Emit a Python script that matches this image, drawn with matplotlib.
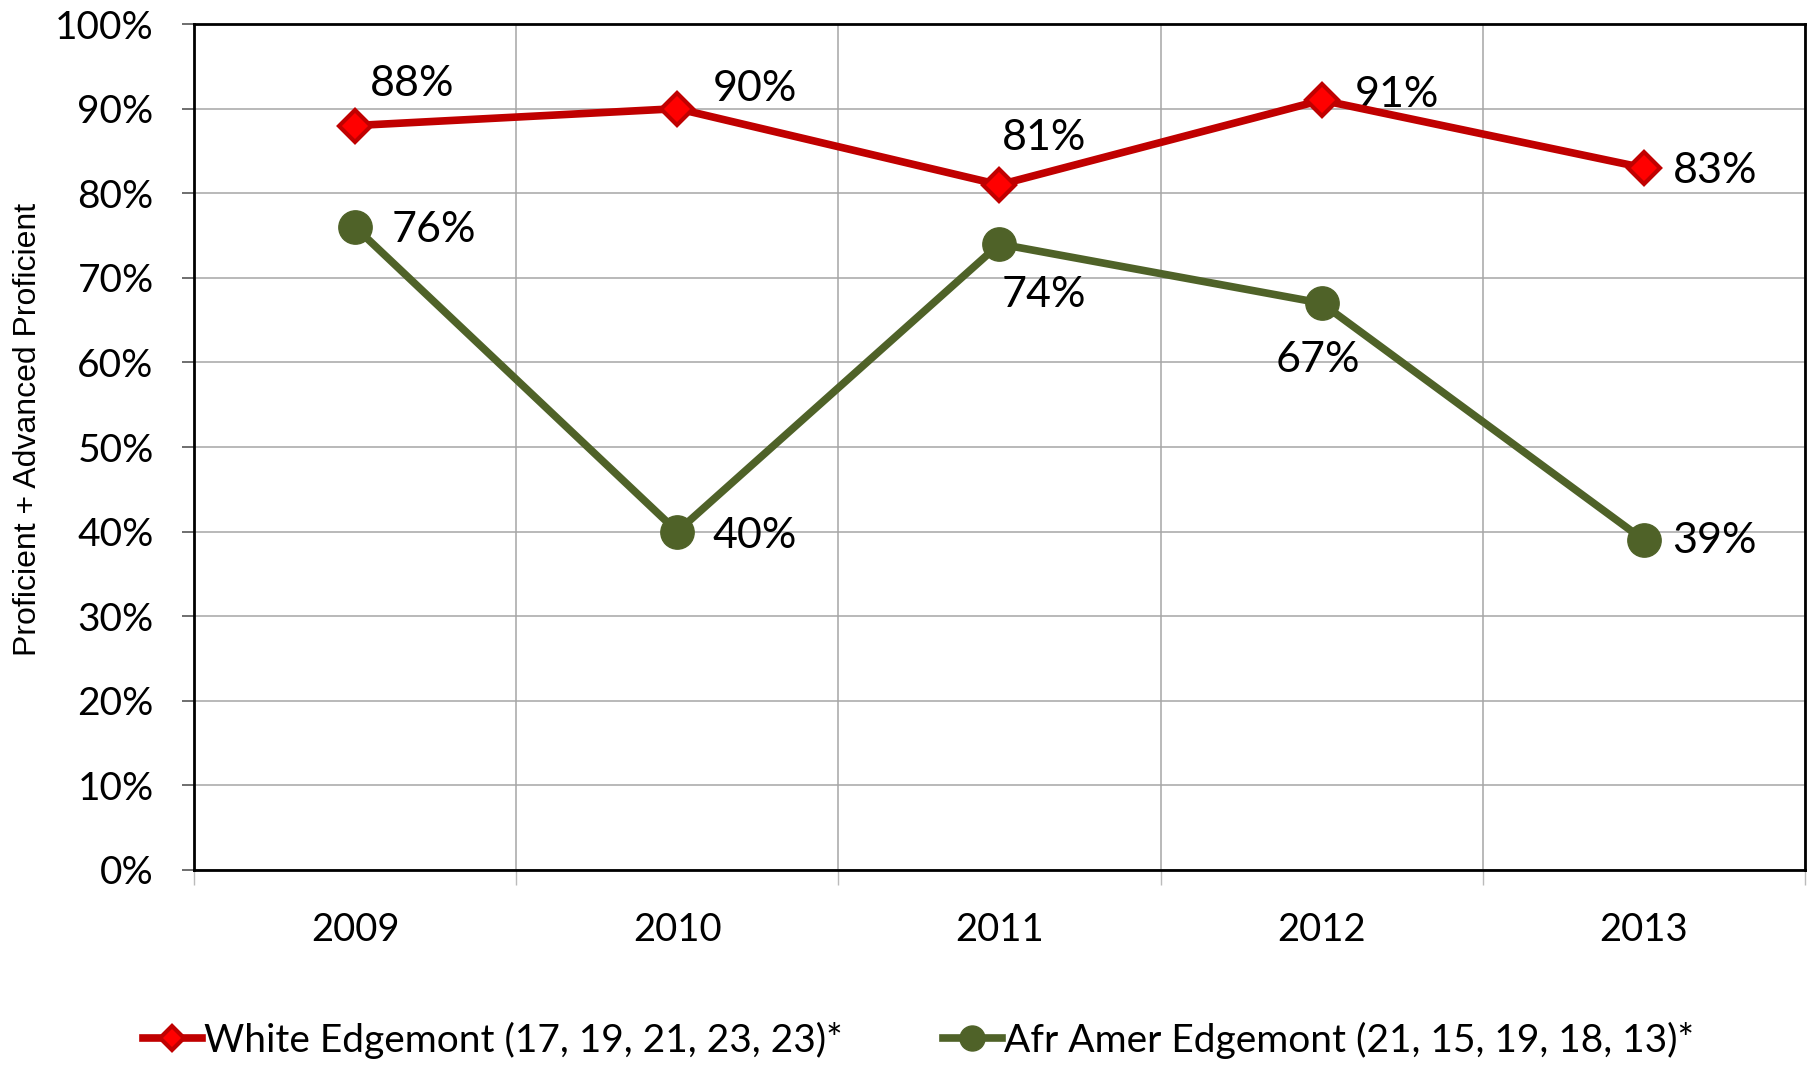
import numpy as np
import matplotlib
matplotlib.use("Agg")
import matplotlib.pyplot as plt
from matplotlib.ticker import FixedLocator, PercentFormatter

years = ["2009", "2010", "2011", "2012", "2013"]
white = [88, 90, 81, 91, 83]
afr_amer = [76, 40, 74, 67, 39]
white_label = "White Edgemont (17, 19, 21, 23, 23)*"
afr_label = "Afr Amer Edgemont (21, 15, 19, 18, 13)*"

# label offsets in points (dx, dy) for each point
white_offsets = [(41, 30), (56, 14), (32, 34), (54, 4), (51, -2)]
afr_offsets = [(57, -2), (56, -3), (32, -37), (-3, -41), (51, -1)]

plt.rcParams['font.family'] = ['Lato', 'DejaVu Sans']

fig = plt.figure(figsize=(18.08, 10.68), dpi=100)
ax = fig.add_axes([0.1073, 0.1854, 0.8910, 0.7921])

x = np.arange(len(years))
l1, = ax.plot(x, white, color='#C00000', lw=5.5, marker='D', markersize=16,
              markerfacecolor='#FF0000', markeredgecolor='#C00000', mew=3,
              label=white_label, zorder=4)
l2, = ax.plot(x, afr_amer, color='#4F6228', lw=5.5, marker='o', markersize=24,
              markerfacecolor='#4F6228', markeredgecolor='#4F6228',
              label=afr_label, zorder=4)

for xi, v, off in zip(x, white, white_offsets):
    ax.annotate(f"{v}%", (xi, v), xytext=off, textcoords='offset points',
                ha='center', va='center', fontsize=31)
for xi, v, off in zip(x, afr_amer, afr_offsets):
    ax.annotate(f"{v}%", (xi, v), xytext=off, textcoords='offset points',
                ha='center', va='center', fontsize=31)

ax.set_xlim(-0.5, len(years) - 0.5)
ax.set_ylim(0, 100)
ax.yaxis.set_major_locator(FixedLocator(np.arange(0, 101, 10)))
ax.yaxis.set_major_formatter(PercentFormatter(decimals=0))
ax.tick_params(axis='y', direction='out', length=9, width=1.2, color='#555555',
               pad=20, labelsize=28)

ax.set_xticks(x)
ax.set_xticklabels(years)
ax.set_xticks(np.arange(-0.5, len(years)), minor=True)
ax.tick_params(axis='x', which='major', length=0, pad=30, labelsize=27.5)
ax.tick_params(axis='x', which='minor', direction='out', length=11, width=1,
               color='#BBBBBB')

ax.grid(axis='y', which='major', color='#A6A6A6', lw=1.1)
ax.grid(axis='x', which='minor', color='#A6A6A6', lw=1.1)
ax.set_axisbelow(True)
for s in ax.spines.values():
    s.set_linewidth(2)
    s.set_color('black')

fig.text(0.0155, 0.598, "Proficient + Advanced Proficient", rotation=90,
         ha='center', va='center', fontsize=23, family=['Liberation Sans'])

fig.legend(handles=[l1, l2], loc='center', bbox_to_anchor=(0.508, 0.026),
           ncol=2, frameon=False, fontsize=28, handlelength=1.5,
           handletextpad=0.05, columnspacing=2.6, markerscale=0.75)

fig.savefig("out.png", dpi=100)
